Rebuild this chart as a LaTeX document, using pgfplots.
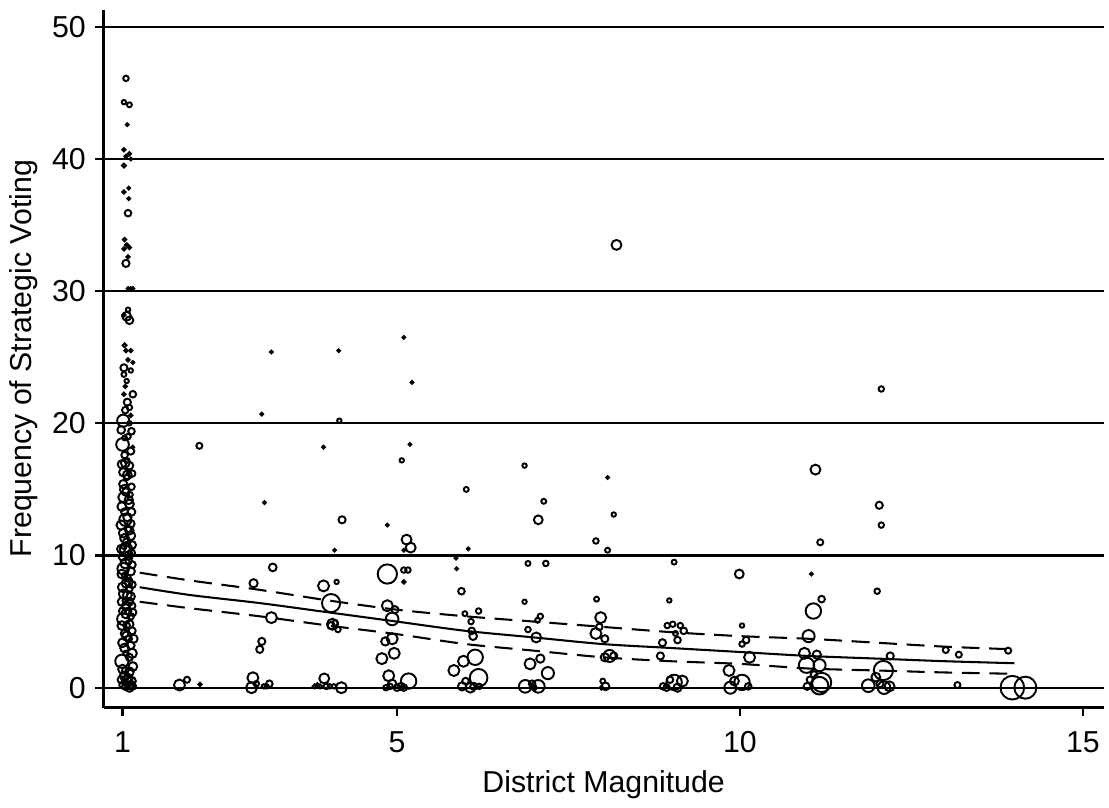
\documentclass[border=0pt]{standalone}
\usepackage{fontspec}
\setmainfont{Liberation Sans}
\usepackage{pgfplots}
\pgfplotsset{compat=1.18}
\usepackage{pgfplotstable}

% district magnitude, strategic voting, marker radius (pt)
\pgfplotstableread{
x y s
1.05 46.1 1.0
1.02 44.3 0.8
1.10 44.1 0.9
1.07 42.6 0.5
1.02 40.7 0.6
1.05 40.2 0.6
1.10 40.4 0.6
1.12 40.0 0.5
1.02 39.5 0.7
1.02 37.5 0.6
1.09 37.8 0.5
1.09 37.0 0.5
1.08 35.9 1.2
1.03 33.9 0.6
1.06 33.5 0.6
1.02 33.2 0.6
1.10 33.3 0.6
1.08 32.6 0.6
1.05 32.1 1.3
1.08 30.2 0.5
1.12 30.2 0.5
1.15 30.2 0.5
1.08 28.6 0.8
1.06 28.1 1.6
1.10 27.8 1.4
1.02 28.2 0.6
1.03 25.9 0.7
1.05 25.5 0.6
1.12 25.5 0.6
1.08 24.8 0.6
1.15 24.6 0.5
1.02 24.2 1.3
1.02 23.7 0.9
1.04 22.8 0.6
1.02 22.2 0.6
1.15 22.2 1.2
1.07 21.6 1.3
1.01 20.2 2.2
1.12 20.6 0.6
1.10 20.0 0.8
1.00 18.4 2.3
1.15 18.2 0.5
1.03 17.6 1.2
1.10 16.8 1.4
1.07 17.2 0.8
1.01 16.3 1.5
1.13 15.2 1.2
1.01 15.4 1.5
1.05 14.8 1.4
1.01 14.4 1.8
1.10 13.9 1.6
1.03 13.3 1.3
1.04 12.7 2.2
1.12 12.4 1.4
1.01 11.7 1.6
1.12 11.5 1.6
1.06 11.0 1.4
1.05 10.5 2.2
1.13 10.2 1.3
1.00 9.9 1.4
1.01 9.0 2.1
1.12 8.8 1.5
1.07 8.3 1.3
1.05 7.9 1.6
1.01 7.1 1.6
1.12 6.9 1.5
1.05 6.2 1.5
1.14 6.2 1.2
1.01 5.2 2.2
1.12 5.4 1.2
1.06 4.7 1.2
1.03 4.1 1.4
1.14 4.3 1.3
1.00 3.4 1.6
1.12 3.2 1.4
0.99 2.0 2.4
1.15 1.6 1.6
1.02 0.9 1.5
1.08 0.7 1.7
1.13 0.5 1.6
1.00 0.2 1.2
1.05 0.1 1.4
1.10 0.0 1.5
1.15 0.1 1.2
1.03 0.4 0.8
1.07 0.2 0.9
1.08 19.0 1.0
1.03 18.9 0.9
1.06 15.9 1.0
1.11 14.6 1.0
1.08 12.0 1.2
1.02 10.7 1.0
1.09 9.6 1.2
1.03 8.5 1.0
1.10 7.5 1.2
1.04 6.6 1.0
1.08 5.8 1.2
1.00 5.8 1.3
1.09 3.7 1.2
1.05 2.6 1.0
1.10 2.3 1.3
1.04 1.3 1.2
0.98 19.5 1.4
1.13 19.4 1.2
1.04 17.0 1.6
1.12 17.9 1.3
0.99 16.9 1.5
1.07 16.1 1.6
1.14 16.2 1.2
1.03 15.0 1.7
1.09 14.2 1.5
0.99 13.7 1.6
1.13 13.3 1.4
1.07 12.9 1.5
0.98 12.3 1.7
1.10 11.9 1.5
1.03 11.3 1.6
1.14 10.8 1.4
0.98 10.5 1.5
1.09 10.0 1.6
1.04 9.4 1.8
1.14 9.3 1.3
0.99 8.6 1.6
1.09 8.0 1.5
1.14 7.8 1.3
1.00 7.6 1.7
1.07 7.0 1.6
0.99 6.5 1.5
1.10 6.5 1.4
1.05 5.6 1.7
1.15 5.7 1.3
0.99 4.7 1.6
1.10 4.8 1.5
1.06 3.9 1.7
1.16 3.7 1.5
1.03 3.0 1.6
1.14 2.6 1.7
1.00 1.4 1.6
1.10 1.2 1.6
1.06 0.5 1.8
1.12 0.2 1.6
0.98 0.6 1.3
1.04 21.0 1.2
1.10 21.2 1.0
1.06 23.2 0.8
1.12 24.0 0.8
1.83 0.2 2.0
1.94 0.6 1.1
2.13 0.25 0.6
2.12 18.3 1.1
3.03 20.7 0.5
3.17 25.4 0.5
2.90 0.75 2.0
2.88 0.0 2.0
3.06 0.1 0.8
3.10 0.1 0.8
3.14 0.3 1.2
3.07 14.0 0.5
3.19 9.1 1.4
2.91 7.9 1.5
3.17 5.3 2.0
3.03 3.5 1.3
3.00 2.9 1.3
2.95 0.3 1.0
4.15 25.5 0.5
4.16 20.2 0.8
3.93 18.2 0.5
4.20 12.7 1.3
4.09 10.4 0.5
3.93 7.7 2.0
4.12 8.0 0.8
4.04 6.4 3.3
4.06 4.8 2.0
4.04 4.7 1.3
4.10 4.9 1.0
4.14 4.4 1.0
3.80 0.1 0.7
3.84 0.2 0.7
3.88 0.1 0.7
3.94 0.7 1.8
3.97 0.1 1.0
4.02 0.1 0.8
4.08 0.1 0.8
4.19 0.0 2.0
5.10 26.5 0.5
5.22 23.1 0.5
5.19 18.4 0.5
5.07 17.2 0.8
5.14 11.2 1.8
5.20 10.6 1.8
5.10 10.4 0.5
4.86 12.3 0.5
4.86 8.6 3.5
5.10 8.9 1.0
5.16 8.9 1.0
5.10 8.0 0.6
4.86 6.2 2.0
4.97 5.9 1.3
4.93 5.2 2.3
4.93 3.7 2.0
4.83 3.5 1.5
4.96 2.6 2.0
4.78 2.2 2.0
4.88 0.9 2.0
5.17 0.5 2.8
4.84 0.0 1.0
4.90 0.1 1.0
4.93 0.3 1.5
5.00 0.0 1.2
5.06 0.1 1.3
5.10 0.0 1.2
6.01 15.0 0.9
6.04 10.5 0.5
5.86 9.8 0.5
5.87 9.0 0.5
5.94 7.3 1.2
5.99 5.6 0.9
6.19 5.8 1.0
6.08 5.0 1.0
6.09 4.3 1.2
6.11 3.9 1.4
5.83 1.3 2.0
5.97 2.0 2.0
6.14 2.3 2.8
6.19 0.75 3.2
6.07 0.0 1.8
5.95 0.1 1.5
6.00 0.5 1.2
6.12 0.1 1.3
6.20 0.1 1.0
6.86 16.8 0.8
7.14 14.1 0.9
7.06 12.7 1.6
6.91 9.4 0.9
7.17 9.4 1.0
6.86 6.5 0.8
7.09 5.4 1.0
7.05 5.1 0.9
6.91 4.4 1.0
7.03 3.8 1.8
7.09 2.2 1.5
6.94 1.8 2.0
7.20 1.1 2.2
6.87 0.1 2.3
7.06 0.1 2.3
6.97 0.3 1.2
7.00 0.0 0.9
8.07 15.9 0.5
8.16 13.1 0.8
7.90 11.1 1.0
8.07 10.4 0.9
7.91 6.7 0.9
7.97 5.3 2.0
7.95 4.6 1.2
7.90 4.1 2.0
8.03 3.7 1.3
8.10 2.4 2.2
8.03 2.3 1.5
8.16 2.4 1.3
8.00 0.5 0.9
8.04 0.1 1.4
7.98 0.0 0.7
8.20 33.5 1.8
9.04 9.5 0.9
8.97 6.6 0.8
8.94 4.7 1.0
9.02 4.8 1.0
9.13 4.7 1.0
9.18 4.3 1.2
9.06 4.1 0.9
9.09 3.6 1.2
8.87 3.4 1.3
8.84 2.4 1.3
9.04 0.4 2.8
8.88 0.1 1.2
9.16 0.5 2.0
9.09 0.0 1.5
8.98 0.6 1.2
8.93 0.0 1.2
9.99 8.6 1.6
10.03 4.7 0.8
10.03 3.3 1.0
10.09 3.6 1.2
10.14 2.3 2.0
9.84 1.3 2.0
9.86 0.0 2.2
10.03 0.4 2.8
10.12 0.1 1.2
9.92 0.5 1.6
11.04 8.6 0.5
11.10 16.5 1.8
11.17 11.0 1.1
11.19 6.7 1.2
11.07 5.8 2.8
11.00 3.9 2.2
10.94 2.6 2.0
10.97 1.7 2.8
11.16 1.7 2.2
11.19 0.4 3.5
11.16 0.15 3.2
10.98 0.1 1.3
11.02 0.6 1.2
11.08 1.0 1.2
11.12 2.5 1.5
12.06 22.6 1.0
12.03 13.8 1.3
12.06 12.3 1.0
12.00 7.3 1.0
12.19 2.4 1.3
12.09 1.3 3.5
11.87 0.15 2.3
12.10 0.0 2.3
12.18 0.1 1.8
11.98 0.8 1.6
12.04 0.3 1.3
13.00 2.85 1.1
13.19 2.5 1.1
13.17 0.2 1.1
13.91 2.8 1.1
13.97 0.0 4.3
14.16 0.0 4.0
}\pts

\pgfplotstableread{
x fit lo hi
1.25 7.6 6.5 8.7
2 7.0 6.0 8.1
3 6.4 5.4 7.4
4 5.7 4.7 6.6
5 5.0 4.05 5.9
6 4.3 3.3 5.4
7 3.8 2.8 5.0
8 3.3 2.3 4.6
9 3.0 2.0 4.2
10 2.7 1.8 3.9
11 2.4 1.45 3.7
12 2.2 1.3 3.4
13 2.0 1.15 3.1
14 1.85 1.05 2.9
}\fit

\begin{document}
\begin{tikzpicture}
\begin{axis}[
  scale only axis, width=363.2pt, height=253.4pt,
  xmin=0.725, xmax=15.30, ymin=-1.5, ymax=51.28,
  axis x line*=bottom, axis y line*=left,
  axis line style={line width=1.1pt, -},
  xtick={1,5,10,15}, ytick={0,10,...,50},
  tick align=outside, major tick length=3pt,
  tick style={black, line width=0.8pt},
  ymajorgrids, major grid style={black, line width=0.75pt},
  /pgf/number format/assume math mode=true,
  ticklabel style={font=\fontsize{11}{13}\selectfont},
  xticklabel style={yshift=-2.3pt},
  label style={font=\fontsize{11}{13}\selectfont},
  xlabel={District Magnitude},
  ylabel={Frequency of Strategic Voting},
  xlabel style={at={(axis description cs:0.5,0)}, anchor=center, yshift=-27.9pt},
  ylabel style={at={(axis description cs:0,0.5)}, anchor=center, yshift=29.2pt},
]
\addplot[scatter, only marks, mark=o, line width=0.7pt,
  scatter/use mapped color={draw=black},
  visualization depends on={\thisrow{s} \as \msz},
  scatter/@pre marker code/.append style={/tikz/mark size=\msz pt}]
  table[x=x, y=y] {\pts};
\addplot[black, line width=0.75pt, smooth] table[x=x, y=fit] {\fit};
\addplot[black, line width=0.75pt, smooth, dash pattern=on 6.5pt off 3.5pt] table[x=x, y=hi] {\fit};
\addplot[black, line width=0.75pt, smooth, dash pattern=on 6.5pt off 3.5pt] table[x=x, y=lo] {\fit};
\end{axis}
\path (current axis.south west) ++(-37.2pt,-32.5pt);
\path (current axis.north east) ++(0pt,3.6pt);
\end{tikzpicture}
\end{document}
